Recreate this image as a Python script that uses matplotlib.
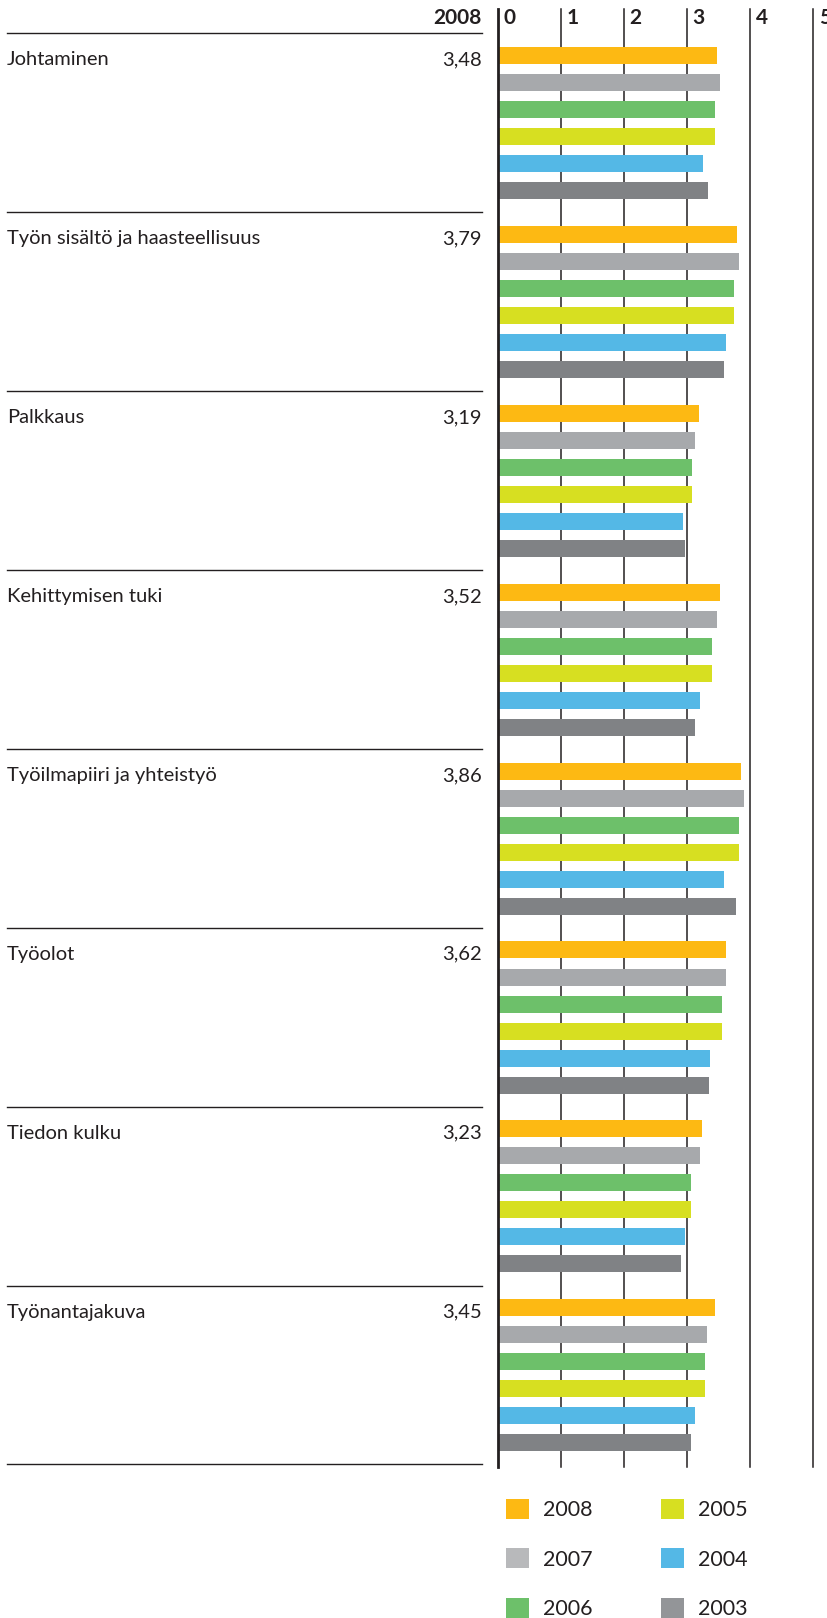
import numpy as np
import matplotlib
matplotlib.use('Agg')
from matplotlib import pyplot as plt
from matplotlib.transforms import blended_transform_factory

plt.rcParams['font.family'] = ['Lato', 'DejaVu Sans']

###data
categories = ['Johtaminen', 'Työn sisältö ja haasteellisuus', 'Palkkaus', 'Kehittymisen tuki',
              'Työilmapiiri ja yhteistyö', 'Työolot', 'Tiedon kulku', 'Työnantajakuva']
labels2008 = ['3,48', '3,79', '3,19', '3,52', '3,86', '3,62', '3,23', '3,45']
years = ['2008', '2007', '2006', '2005', '2004', '2003']
v2008 = [3.48, 3.79, 3.19, 3.52, 3.86, 3.62, 3.23, 3.45]
v2007 = [3.52, 3.82, 3.12, 3.47, 3.90, 3.61, 3.20, 3.31]
v2006 = [3.44, 3.75, 3.08, 3.39, 3.83, 3.55, 3.07, 3.28]
v2005 = [3.44, 3.75, 3.08, 3.39, 3.83, 3.55, 3.07, 3.28]
v2004 = [3.25, 3.61, 2.94, 3.20, 3.58, 3.36, 2.96, 3.13]
v2003 = [3.33, 3.58, 2.96, 3.12, 3.77, 3.34, 2.91, 3.07]
values = [v2008, v2007, v2006, v2005, v2004, v2003]
xticks = [0, 1, 2, 3, 4, 5]
colors = ['#FDB913', '#A7A9AC', '#6DC06A', '#D7DF21', '#54B8E6', '#808285']
legcolors = ['#FDB913', '#B8B9BB', '#6DC06A', '#D7DF21', '#54B8E6', '#939598']

W, H = 828, 1618
fig = plt.figure(figsize=(W/100, H/100), dpi=100)
ax = fig.add_axes([497.7/W, 1-1467/H, 315.6/W, (1467-9)/H])

groups = np.arange(len(categories))
off0 = 0.124
step = 0.151
bh = 0.095
for j in range(len(years)):
	ax.barh(groups+off0+j*step, values[j], height=bh, color=colors[j], label=years[j], zorder=3)

for t in xticks:
	lw = 2.0 if t == 0 else 1.1
	ax.axvline(t, color='#231f20', lw=lw, zorder=2 if t else 4, clip_on=False)
	ax.text(t+0.09, -0.085, str(t), fontsize=15, fontweight='bold', va='center', ha='left', color='#231f20')

ax.set_xlim(0, 5)
ax.set_ylim(8.014, -0.136)
ax.axis('off')

trans = blended_transform_factory(fig.transFigure, ax.transData)
for k in range(len(categories)+1):
	ax.plot([7/W, 482/W], [k, k], transform=trans, color='#231f20', lw=1.0, clip_on=False)
for k in range(len(categories)):
	ax.text(7/W, k+0.179, categories[k], transform=trans, fontsize=14.5, va='baseline', ha='left', color='#231f20')
	ax.text(482/W, k+0.179, labels2008[k], transform=trans, fontsize=14.5, va='baseline', ha='right', color='#231f20')
ax.text(482/W, -0.085, '2008', transform=trans, fontsize=15, fontweight='bold', va='center', ha='right', color='#231f20')

leg = fig.legend(loc='upper left', bbox_to_anchor=(506/W, 1-1499/H), ncol=2, frameon=False,
	fontsize=15.5, handlelength=1.05, handleheight=1.05, handletextpad=0.65,
	labelspacing=1.3, columnspacing=3.2, borderpad=0, borderaxespad=0)
for txt in leg.get_texts():
	txt.set_color('#231f20')
for h, c in zip(leg.legend_handles, legcolors):
	h.set_facecolor(c)

plt.savefig('out.png', dpi=100)
plt.close()
